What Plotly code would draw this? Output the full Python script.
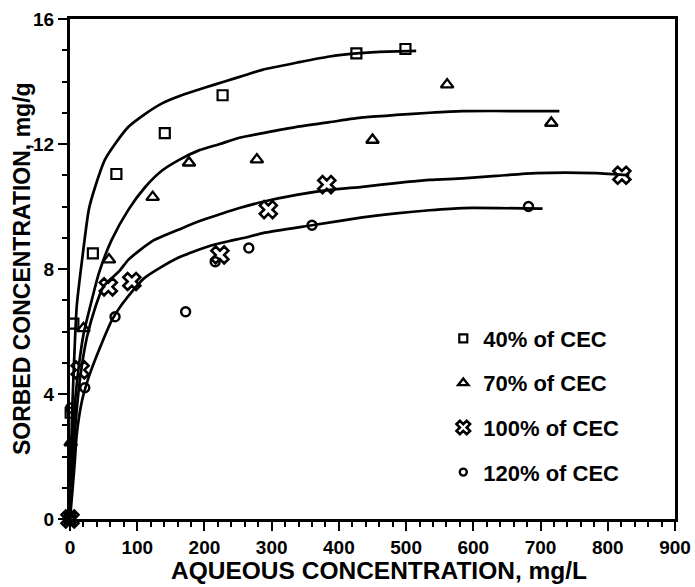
import plotly.graph_objects as go

# ---- measured points ----
x40 = [0, 1, 5, 34, 69, 141, 227, 426, 499]
y40 = [0, 3.4, 6.25, 8.5, 11.04, 12.35, 13.56, 14.9, 15.04]

x70 = [0, 1, 20, 58, 123, 177, 278, 450, 561, 716]
y70 = [0, 2.45, 6.1, 8.3, 10.3, 11.4, 11.5, 12.13, 13.9, 12.67]

x100 = [0, 15, 57, 92, 223, 295, 382, 821]
y100 = [0, 4.77, 7.43, 7.6, 8.45, 9.9, 10.7, 11.0]

x120 = [0, 1, 22, 67, 172, 216, 266, 360, 682]
y120 = [0, 3.55, 4.2, 6.47, 6.63, 8.23, 8.67, 9.4, 10.0]

# ---- fitted curves ----
cx40 = [0, 1, 3, 6, 10, 18, 28, 37, 52, 67, 87, 111, 137, 165, 200, 230, 260, 287, 337, 386, 426, 460, 515]
cy40 = [0, 1.5, 3.3, 5.0, 6.8, 8.3, 9.9, 10.6, 11.5, 12.0, 12.55, 12.95, 13.3, 13.55, 13.8, 14.0, 14.2, 14.38, 14.6, 14.8, 14.9, 14.95, 14.98]

cx70 = [0, 2, 5, 10, 20, 30, 43, 62, 87, 111, 137, 163, 190, 223, 252, 287, 337, 386, 435, 485, 535, 584, 728]
cy70 = [0, 1.5, 3.0, 4.3, 5.9, 6.8, 7.87, 8.93, 9.9, 10.6, 11.15, 11.5, 11.78, 12.0, 12.2, 12.35, 12.55, 12.7, 12.85, 12.93, 13.0, 13.05, 13.05]

cx100 = [0, 3, 8, 15, 25, 38, 50, 74, 87, 123, 166, 195, 223, 252, 287, 337, 386, 435, 485, 535, 584, 634, 693, 782, 832]
cy100 = [0, 1.5, 3.0, 4.5, 5.8, 6.8, 7.45, 7.95, 8.3, 8.9, 9.3, 9.55, 9.75, 9.95, 10.15, 10.37, 10.53, 10.63, 10.75, 10.85, 10.9, 10.98, 11.07, 11.07, 11.0]

cx120 = [0, 4, 7, 10, 18, 28, 43, 62, 75, 110, 160, 210, 238, 260, 287, 360, 435, 485, 535, 584, 703]
cy120 = [0, 1.0, 1.8, 2.7, 3.8, 4.55, 5.4, 6.35, 6.8, 7.7, 8.35, 8.75, 8.9, 9.0, 9.15, 9.4, 9.65, 9.78, 9.88, 9.95, 9.93]

labels = ["40% of CEC", "70% of CEC", "100% of CEC", "120% of CEC"]
x_title = "AQUEOUS CONCENTRATION, mg/L"
y_title = "SORBED CONCENTRATION, mg/g"

FONT = "Liberation Sans, Arial, Helvetica, sans-serif"

fig = go.Figure()

for cx, cy in [(cx40, cy40), (cx70, cy70), (cx100, cy100), (cx120, cy120)]:
    fig.add_trace(go.Scatter(x=cx, y=cy, mode="lines", showlegend=False,
                             line=dict(color="black", width=2.7, shape="spline", smoothing=0.6),
                             cliponaxis=False, hoverinfo="skip"))

symbols = ["square-open", "triangle-up-open", "x-open", "circle-open"]
plot_sizes = [10, 11, 15, 9]
legend_sizes = [8, 9, 12, 7]
widths = [2.2, 2.4, 2.6, 2.4]
series = [(x40, y40), (x70, y70), (x100, y100), (x120, y120)]

for i, (xs, ys) in enumerate(series):
    fig.add_trace(go.Scatter(x=xs, y=ys, mode="markers", showlegend=False,
                             marker=dict(symbol=symbols[i], size=plot_sizes[i], color="black",
                                         line=dict(width=widths[i], color="black")),
                             cliponaxis=False))
for i in range(4):
    fig.add_trace(go.Scatter(x=[None], y=[None], mode="markers", name=labels[i],
                             legendgroup=f"g{i}",
                             marker=dict(symbol=symbols[i], size=legend_sizes[i], color="black",
                                         line=dict(width=widths[i], color="black"))))

axis_common = dict(
    showline=True, linecolor="black", linewidth=3, mirror=True,
    ticks="outside", ticklen=9, tickwidth=2, tickcolor="black",
    showgrid=False, zeroline=False, automargin=False,
    tickfont=dict(family=FONT, size=19, color="black", weight="bold"),
)

fig.update_xaxes(range=[0, 900], dtick=100, tick0=0,
                 minor=dict(dtick=20, ticks="outside", ticklen=5, tickwidth=1.5, tickcolor="black"),
                 **axis_common)
fig.update_yaxes(range=[0, 16], dtick=4, tick0=0,
                 minor=dict(dtick=1, ticks="outside", ticklen=5, tickwidth=1.5, tickcolor="black"),
                 **axis_common)

fig.add_annotation(text=x_title, xref="paper", yref="paper", x=0.511, y=-0.102,
                   xanchor="center", yanchor="middle", showarrow=False,
                   font=dict(family=FONT, size=24.5, color="black", weight="bold"))
fig.add_annotation(text=y_title, xref="paper", yref="paper", x=-0.08, y=0.501,
                   xanchor="center", yanchor="middle", showarrow=False, textangle=-90,
                   font=dict(family=FONT, size=23, color="black", weight="bold"))

fig.update_layout(
    width=695, height=587,
    margin=dict(l=70, r=20, t=19, b=68),
    paper_bgcolor="white", plot_bgcolor="white",
    showlegend=True,
    legend=dict(x=0.617, y=0.227, xanchor="left", yanchor="middle",
                font=dict(family=FONT, size=22, color="black", weight="bold"),
                bgcolor="rgba(0,0,0,0)", tracegroupgap=13, itemwidth=30),
)

fig.write_html("out.html", config={"displayModeBar": False},
               post_script="document.body.style.margin='0';document.body.style.padding='0';document.body.style.overflow='hidden';")
